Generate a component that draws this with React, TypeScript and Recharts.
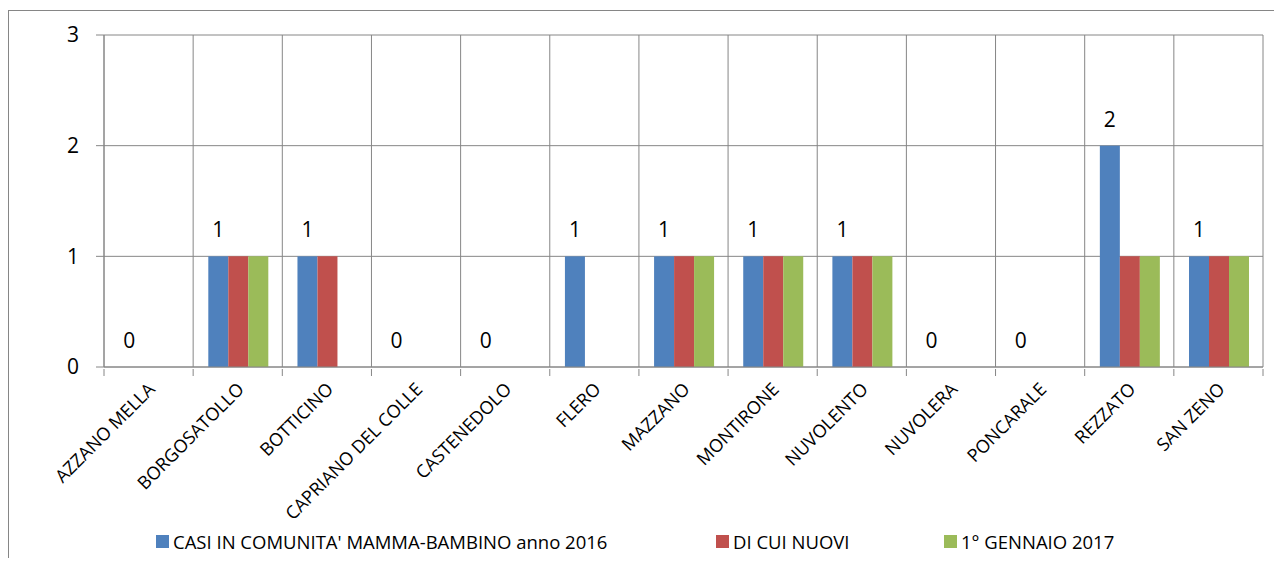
import React from 'react';
import { BarChart, Bar, XAxis, YAxis, CartesianGrid, Legend } from 'recharts';

const comuni = [
  'AZZANO MELLA',
  'BORGOSATOLLO',
  'BOTTICINO',
  'CAPRIANO DEL COLLE',
  'CASTENEDOLO',
  'FLERO',
  'MAZZANO',
  'MONTIRONE',
  'NUVOLENTO',
  'NUVOLERA',
  'PONCARALE',
  'REZZATO',
  'SAN ZENO',
];
const casi2016 = [0, 1, 1, 0, 0, 1, 1, 1, 1, 0, 0, 2, 1];
const nuovi = [0, 1, 1, 0, 0, 0, 1, 1, 1, 0, 0, 1, 1];
const gennaio2017 = [0, 1, 0, 0, 0, 0, 1, 1, 1, 0, 0, 1, 1];
const yTicks = [0, 1, 2, 3];

const series = [
  { key: 'casi', name: "CASI IN COMUNITA' MAMMA-BAMBINO anno 2016", color: '#4F81BD' },
  { key: 'nuovi', name: 'DI CUI NUOVI', color: '#C0504D' },
  { key: 'gennaio', name: '1° GENNAIO 2017', color: '#9BBB59' },
];

const data = comuni.map((comune, i) => ({
  comune,
  casi: casi2016[i],
  nuovi: nuovi[i],
  gennaio: gennaio2017[i],
}));

const FONT = '"Open Sans", sans-serif';
const GRID = '#868686';

const CategoryTick = (props: any) => {
  const { x, y, payload, index } = props;
  const half = payload.offset ?? 0;
  return (
    <g>
      <line x1={x - half} x2={x - half} y1={y} y2={y + 7} stroke={GRID} />
      {index === comuni.length - 1 && <line x1={x + half} x2={x + half} y1={y} y2={y + 7} stroke={GRID} />}
      <g transform={`translate(${x + 3},${y + 17})`}>
        <text textAnchor="end" transform="rotate(-45)" dy="0.35em" fontSize={18} fontFamily={FONT} fill="#000">
          {payload.value}
        </text>
      </g>
    </g>
  );
};

// blue bar draws its own value label, zeros included
const CasiShape = (props: any) => {
  const { x, y, width, height, fill, payload } = props;
  return (
    <g>
      {height > 0 && <rect x={x} y={y} width={width} height={height} fill={fill} />}
      <text x={x + width / 2} y={y - 19} textAnchor="middle" fontSize={21} fontFamily={FONT} fill="#000">
        {payload.casi}
      </text>
    </g>
  );
};

const LegendContent = () => {
  const widths = [560, 228, 240];
  return (
    <div style={{ height: 40, paddingTop: 9, paddingLeft: 147, boxSizing: 'border-box', display: 'flex' }}>
      {series.map((s, i) => (
        <div key={s.key} style={{ width: widths[i], height: 13, display: 'flex', alignItems: 'center' }}>
          <span style={{ width: 13, height: 13, background: s.color, marginRight: 4, flex: 'none' }} />
          <span style={{ fontFamily: FONT, fontSize: 18.5, color: '#000', whiteSpace: 'nowrap' }}>{s.name}</span>
        </div>
      ))}
    </div>
  );
};

export default function App() {
  return (
    <div style={{ width: 1274, height: 558, marginBottom: -8, paddingTop: 2, boxSizing: 'border-box' }}>
      <div
        style={{
          width: 1274,
          height: 556,
          borderLeft: `1px solid ${GRID}`,
          borderTop: `1px solid ${GRID}`,
          boxSizing: 'border-box',
        }}
      >
        <BarChart
          width={1273}
          height={555}
          data={data}
          margin={{ top: 24, right: 19, left: 0, bottom: 0 }}
          barCategoryGap="17%"
          barGap={0}
          style={{ fontFamily: FONT }}
        >
          <CartesianGrid
            stroke={GRID}
            verticalCoordinatesGenerator={({ offset }: any) =>
              comuni.map((_, i) => offset.left + (i * offset.width) / comuni.length).concat(offset.left + offset.width)
            }
          />
          <XAxis
            dataKey="comune"
            interval={0}
            height={159}
            stroke={GRID}
            axisLine={{ stroke: GRID }}
            tickLine={false}
            tickSize={0}
            tick={<CategoryTick />}
          />
          <YAxis
            domain={[0, 3]}
            ticks={yTicks}
            width={95}
            tickSize={8}
            tickMargin={17}
            stroke={GRID}
            tick={{ fill: '#000', fontSize: 21, fontFamily: FONT }}
          />
          <Legend verticalAlign="bottom" content={<LegendContent />} />
          {series.map((s) => (
            <Bar
              key={s.key}
              dataKey={s.key}
              name={s.name}
              fill={s.color}
              isAnimationActive={false}
              shape={s.key === 'casi' ? <CasiShape /> : undefined}
            />
          ))}
        </BarChart>
      </div>
    </div>
  );
}
